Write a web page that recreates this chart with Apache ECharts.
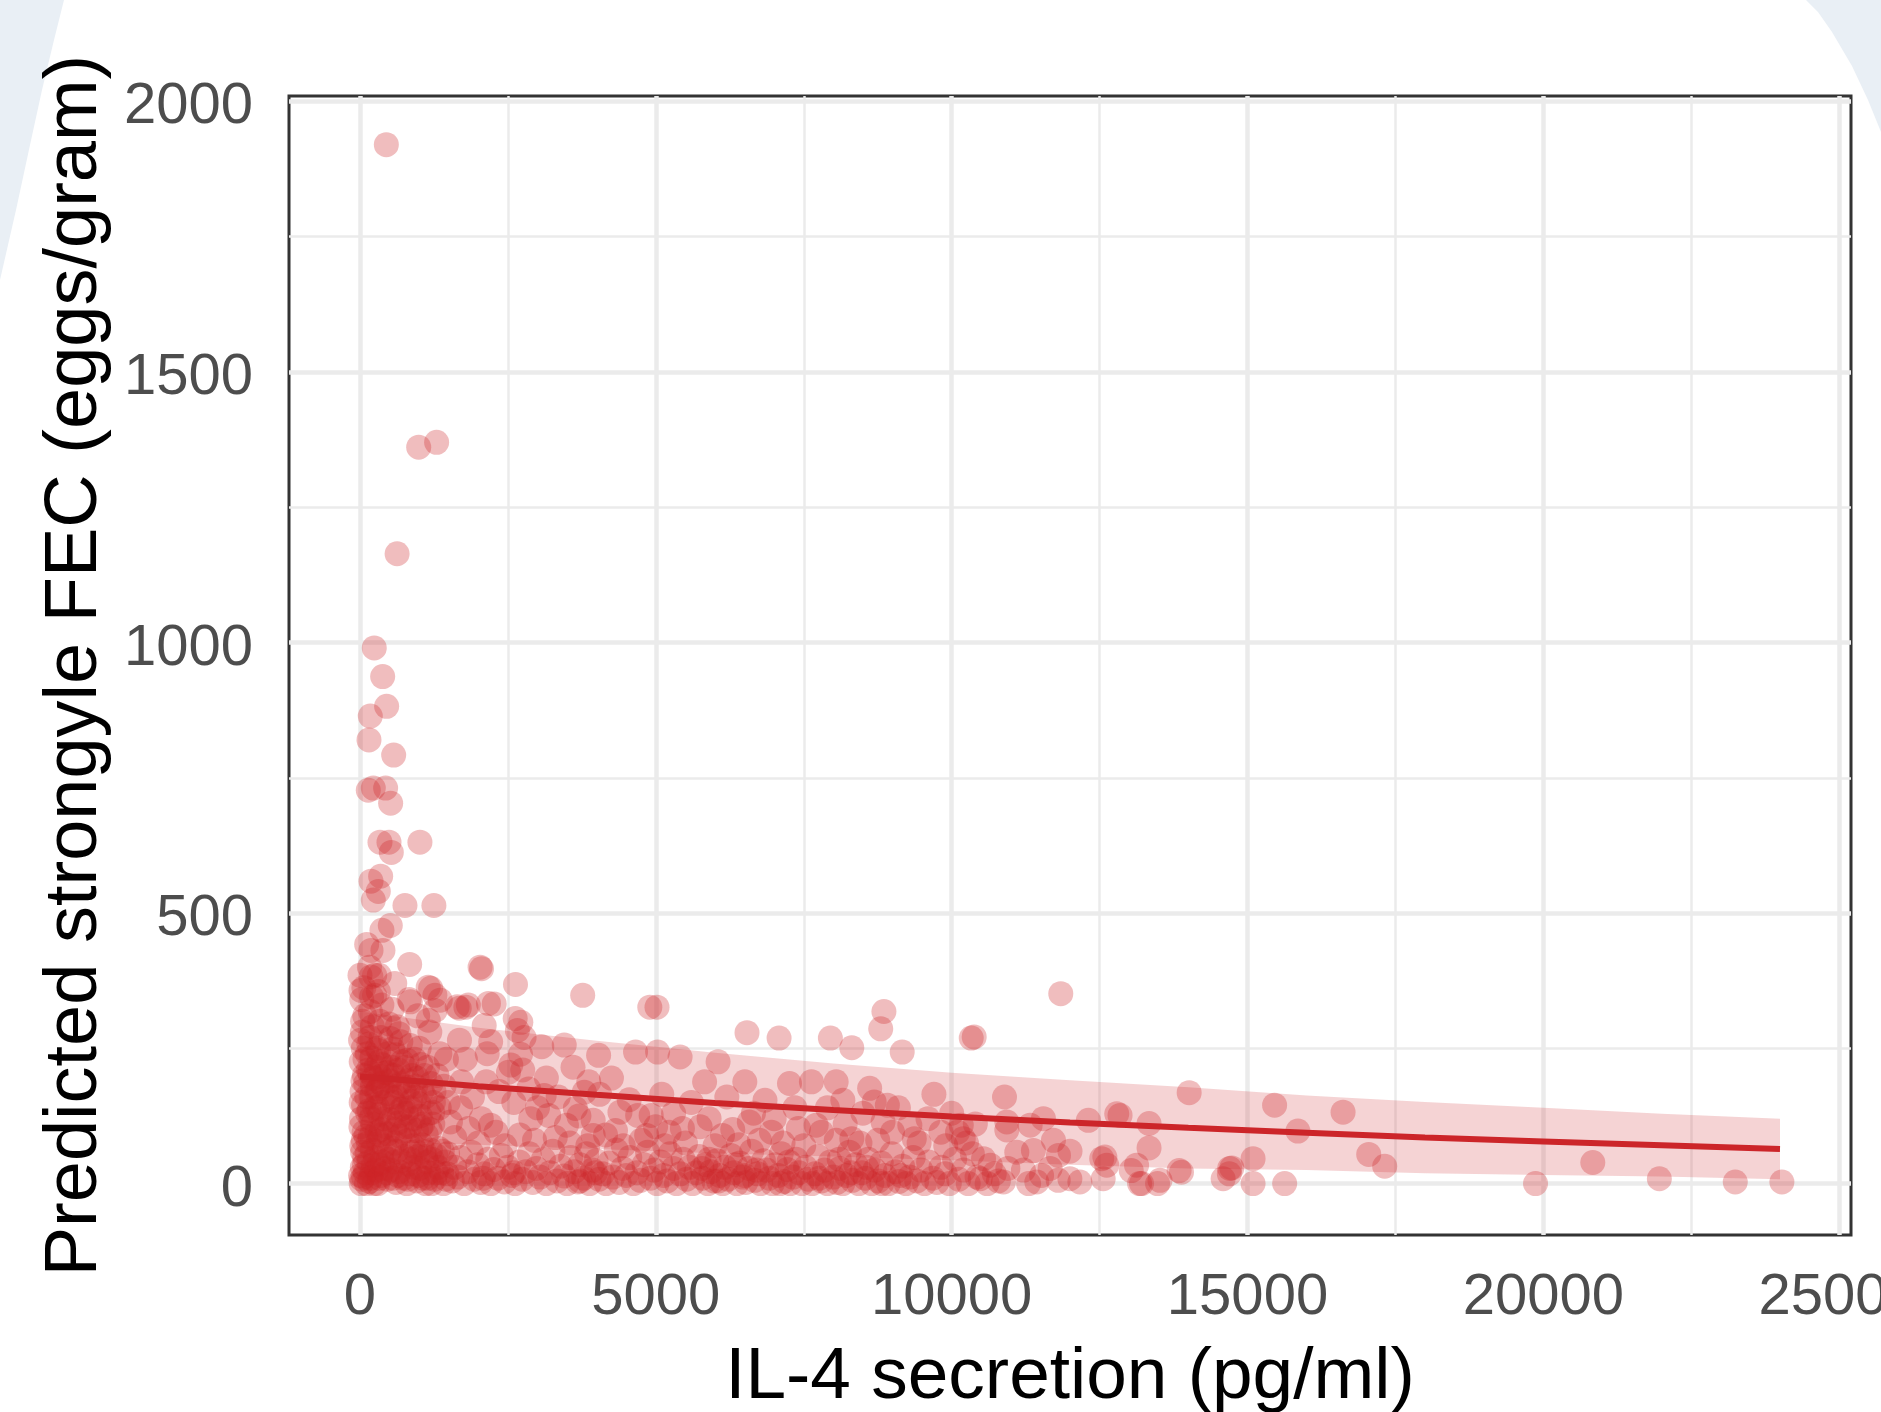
<!DOCTYPE html>
<html>
<head>
<meta charset="utf-8">
<script src="https://cdn.jsdelivr.net/npm/echarts@6/dist/echarts.min.js"></script>
<style>
  html, body { margin: 0; padding: 0; background: #ffffff; }
  #chart { width: 1881px; height: 1412px; }
</style>
</head>
<body>
<div id="chart"></div>
<script>
// axis ticks and gridlines
const xTicks = [0, 5000, 10000, 15000, 20000, 25000];
const xMinor = [2500, 7500, 12500, 17500, 22500];
const yTicks = [0, 500, 1000, 1500, 2000];
const yMinor = [250, 750, 1250, 1750];

// fitted curve and confidence band
const fitX = [0, 2000, 4000, 6000, 8000, 10000, 12000, 14000, 16000, 18000, 20000, 22000, 24000];
const fitY = [198, 180, 164, 149, 136, 124, 113, 103, 94, 85, 78, 71, 64];
const bandUpper = [318, 288, 264, 242, 222, 205, 191, 178, 163, 151, 140, 129, 120];
const bandLower = [78, 72, 64, 56, 50, 43, 35, 28, 25, 19, 16, 13, 8];

// observations: [IL-4 secretion, predicted FEC]
const outliers = [
  [445, 1920], [992, 1361], [1295, 1370], [627, 1164],
  [241, 990], [383, 937], [450, 882], [174, 864], [152, 820], [569, 792],
  [140, 727], [225, 731], [433, 731], [518, 703],
  [338, 631], [490, 631], [529, 612], [1013, 631],
  [186, 559], [349, 568], [309, 540], [225, 524], [760, 514], [1249, 514],
  [512, 477], [371, 468], [113, 442], [388, 431], [186, 431], [839, 405],
  [2054, 397], [2030, 400], [2628, 368], [3764, 348], [0, 385], [186, 382], [326, 385],
  [248, 385], [587, 370], [17, 357], [248, 348], [1153, 363], [1266, 348], [852, 336],
  [1642, 327], [1831, 330], [2171, 333], [1153, 302], [1681, 265], [2208, 262],
  [2660, 283], [2623, 305], [3072, 253], [3452, 256], [4033, 237], [4657, 243],
  [5030, 243], [5410, 234], [6052, 225], [6541, 279], [7083, 269], [7950, 269],
  [8312, 251], [8855, 318], [8801, 286], [9164, 243], [10331, 269], [4898, 326],
  [5020, 326], [1677, 324], [1790, 326], [2268, 332], [2099, 292], [2718, 298],
  [2773, 270], [2712, 239], [658, 277], [550, 249], [1194, 361], [1356, 339]
];

const leftCluster = [
  [20, 0], [60, 12], [40, 30], [80, 48], [30, 70], [70, 95], [25, 120], [60, 145], [35, 170], [75, 200],
  [20, 225], [55, 250], [40, 280], [80, 310], [30, 340], [65, 362],
  [160, 4], [200, 20], [150, 40], [210, 62], [170, 85], [220, 110], [155, 135], [190, 160], [215, 180],
  [165, 205], [200, 232], [150, 258], [210, 290], [175, 318], [195, 345], [160, 400],
  [300, 0], [350, 15], [320, 35], [370, 55], [310, 78], [360, 100], [330, 128], [380, 150], [305, 175],
  [345, 198], [375, 220], [315, 246], [355, 270], [335, 300], [370, 330], [310, 355],
  [460, 8], [520, 25], [480, 45], [540, 66], [470, 92], [510, 118], [545, 140], [455, 166], [500, 190],
  [530, 215], [475, 240], [515, 268], [490, 295], [540, 322],
  [610, 2], [660, 22], [690, 42], [620, 60], [670, 88], [640, 112], [700, 138], [615, 160], [680, 185],
  [650, 210], [605, 238], [690, 262], [630, 290],
  [790, 0], [850, 18], [820, 36], [870, 58], [800, 80], [840, 105], [785, 130], [860, 152], [815, 178],
  [880, 200], [795, 228], [850, 255], [830, 340],
  [960, 5], [1010, 28], [980, 50], [1040, 72], [955, 98], [1020, 125], [990, 148], [1050, 172], [965, 195],
  [1030, 220], [1000, 250], [975, 310],
  [1110, 0], [1160, 20], [1130, 40], [1190, 62], [1120, 90], [1170, 130], [1100, 160], [1200, 185],
  [1140, 215], [1180, 280],
  [1260, 8], [1320, 30], [1280, 52], [1340, 140], [1250, 170], [1300, 200], [1350, 240], [1270, 320],
  [1410, 0], [1470, 18], [1440, 40], [1490, 150], [1420, 180], [1460, 230],
  [90, 20], [120, 55], [100, 88], [130, 130], [95, 185], [125, 240], [240, 0], [260, 48], [250, 140],
  [270, 215], [420, 28], [400, 120], [430, 205], [580, 40], [575, 150], [740, 10], [720, 95], [745, 170],
  [910, 30], [900, 120], [920, 230], [1070, 10], [1060, 110], [1220, 45], [1230, 110], [1380, 20], [1390, 60],
  [10, 15], [45, 58], [15, 105], [50, 190], [10, 265], [45, 300], [110, 0], [140, 75], [115, 160], [140, 210],
  [280, 25], [290, 95], [285, 170], [290, 250], [410, 70], [395, 180], [560, 10], [590, 100], [570, 200],
  [750, 50], [730, 140], [760, 215], [890, 70], [930, 160], [1080, 60], [1090, 200], [1210, 0], [1240, 150],
  [30, 8], [75, 35], [55, 80], [20, 150], [85, 230], [180, 10], [230, 35], [185, 120], [230, 195], [170, 270],
  [330, 10], [380, 40], [340, 90], [300, 140], [360, 185], [325, 225], [450, 20], [495, 60], [440, 105],
  [525, 160], [460, 205], [640, 15], [600, 75], [665, 125], [635, 180], [710, 225], [810, 8], [855, 45],
  [775, 105], [845, 140], [805, 190], [985, 15], [945, 60], [1025, 105], [940, 180], [1150, 10], [1105, 50],
  [1185, 100], [1290, 20], [1330, 65], [1450, 8], [1480, 55]
];

const bottomBand = [
  [1560, 5], [1600, 30], [1650, 12], [1700, 48], [1760, 0], [1820, 22], [1880, 58], [1930, 8], [1990, 35],
  [2040, 2], [2100, 18], [2160, 45], [2210, 0], [2260, 26], [2330, 10], [2390, 52], [2440, 3], [2500, 30],
  [2570, 15], [2620, 0], [2690, 40], [2740, 8], [2800, 22], [2860, 55], [2920, 2], [2980, 28],
  [3040, 12], [3100, 45], [3150, 0], [3210, 20], [3260, 60], [3330, 5], [3390, 32], [3450, 14], [3500, 0],
  [3560, 48], [3620, 22], [3680, 3], [3720, 35], [3780, 10], [3830, 55], [3880, 0], [3930, 25], [3990, 42],
  [4040, 8], [4100, 18], [4160, 0], [4210, 38], [4270, 12], [4330, 62], [4380, 2], [4440, 28], [4500, 15],
  [4560, 48], [4620, 0], [4680, 20], [4740, 6], [4800, 35], [4860, 58], [4910, 10], [4970, 25],
  [5020, 0], [5080, 40], [5130, 15], [5190, 5], [5240, 55], [5300, 28], [5350, 0], [5410, 18], [5460, 45],
  [5520, 8], [5570, 30], [5620, 0], [5680, 20], [5730, 50], [5790, 10], [5840, 35], [5880, 0], [5930, 22],
  [5980, 5], [6030, 42], [6080, 15], [6130, 0], [6170, 30], [6220, 8], [6270, 52], [6320, 20], [6370, 0],
  [6420, 38], [6470, 12], [6520, 2], [6570, 28], [6620, 60], [6670, 6], [6720, 18], [6770, 0], [6820, 42],
  [6870, 25], [6920, 10], [6970, 0], [7020, 35], [7070, 15], [7120, 55], [7170, 4], [7220, 26], [7270, 0],
  [7320, 12], [7370, 45], [7420, 20], [7470, 0],
  [7530, 30], [7580, 8], [7640, 0], [7690, 18], [7740, 50], [7800, 5], [7850, 25], [7900, 0], [7950, 40],
  [8000, 12], [8060, 2], [8110, 28], [8160, 0], [8220, 15], [8270, 58], [8320, 6], [8380, 35], [8430, 0],
  [8480, 20], [8540, 10], [8590, 45], [8650, 0], [8700, 25], [8760, 5], [8810, 38], [8870, 15], [8930, 0],
  [8990, 55], [9050, 22], [9110, 4], [9170, 32], [9230, 0], [9290, 12], [9350, 48], [9410, 5], [9480, 25],
  [9540, 0], [9610, 40], [9680, 10], [9750, 2], [9820, 30], [9890, 18], [9960, 0],
  [10050, 45], [10120, 8], [10200, 25], [10280, 0], [10350, 55], [10430, 12], [10483, 9], [10539, 46],
  [10600, 0], [10652, 34], [10720, 18], [10790, 5], [10876, 3], [10950, 28], [11101, 58], [11213, 25],
  [11300, 0], [11382, 61], [11439, 3], [11520, 15], [11664, 28], [11801, 6], [11805, 52], [11998, 9],
  [12167, 3],
  [2080, 10], [2600, 20], [3720, 5], [3980, 20], [5780, 28], [6060, 5], [6340, 35], [6700, 25], [7100, 0],
  [7250, 40], [7760, 10], [8100, 45], [8300, 20], [8560, 30], [8820, 0], [9140, 15], [6500, 15], [5900, 45]
];

const midBand = [
  [1718, 188], [2134, 188], [2510, 206], [2549, 219], [3113, 163], [3640, 139], [3866, 188], [3791, 169],
  [3941, 117], [4394, 132], [4693, 126], [4921, 126], [4996, 105], [5449, 102], [5824, 188], [6504, 188],
  [6845, 154], [7259, 185], [7630, 188], [8048, 188], [8161, 154], [8614, 176], [8690, 151], [8913, 145],
  [9293, 108], [10162, 108], [10196, 83], [1229, 132], [1529, 114], [1831, 102], [2208, 108], [2886, 120],
  [3189, 126], [3489, 108], [3941, 89], [4318, 98], [4845, 89], [5223, 95], [5749, 105], [6127, 89],
  [6580, 114], [6955, 95], [7409, 102], [7710, 108], [8312, 83], [8840, 114], [9368, 83], [9819, 95],
  [1600, 85], [1700, 140], [1780, 230], [1900, 160], [2000, 75], [2050, 120], [2150, 240], [2300, 95],
  [2350, 170], [2450, 70], [2600, 150], [2700, 90], [2750, 210], [2850, 175], [2950, 80], [3000, 140],
  [3150, 195], [3300, 85], [3350, 160], [3550, 75], [3600, 215], [3700, 125], [3850, 70], [4050, 165],
  [4150, 90], [4250, 195], [4450, 70], [4550, 155], [4750, 80], [5100, 165], [5150, 70], [5300, 130],
  [5500, 75], [5600, 150], [5900, 120], [6000, 70], [6200, 160], [6300, 100], [6400, 72], [6650, 130],
  [6750, 80], [7000, 120], [7150, 75], [7350, 140], [7500, 70], [7800, 95], [7900, 140], [8050, 80],
  [8200, 110], [8450, 75], [8500, 130], [8750, 80], [9000, 95], [9100, 140], [9450, 75], [9600, 120],
  [9700, 165], [9900, 70], [10000, 130], [10100, 95], [10250, 75], [10400, 110]
];

const rightTail = [
  [10381, 271], [10893, 160], [11844, 351], [14014, 168], [15458, 145], [15852, 97], [10932, 114],
  [10932, 99], [11326, 108], [11551, 120], [11720, 80], [12311, 117], [12790, 129], [12846, 126],
  [13336, 111], [13336, 66], [12536, 46], [12621, 34], [13125, 34], [13884, 21], [14700, 28], [15094, 46],
  [15628, 0], [15094, 0], [13521, 6], [13209, 0], [12561, 9], [12000, 60], [14588, 9], [16615, 132],
  [17049, 54], [17319, 32], [19868, 0], [20836, 39], [21961, 9], [23244, 3], [24032, 3],
  [12589, 49], [13035, 24], [13844, 24], [14735, 29], [14693, 18], [13480, 0], [13176, 0]
];

const samples = [].concat(outliers, leftCluster, bottomBand, midBand, rightTail);

const RED = 'rgb(204,37,41)';
const FONT = 'Liberation Sans, Arial, Helvetica, sans-serif';

const chart = echarts.init(document.getElementById('chart'), null, { renderer: 'canvas' });

const gridLines = [];
xTicks.forEach(v => gridLines.push({ xAxis: v, lineStyle: { width: 4.5 } }));
xMinor.forEach(v => gridLines.push({ xAxis: v, lineStyle: { width: 2.5 } }));
yTicks.forEach(v => gridLines.push({ yAxis: v, lineStyle: { width: 4.5 } }));
yMinor.forEach(v => gridLines.push({ yAxis: v, lineStyle: { width: 2.5 } }));

const option = {
  animation: false,
  backgroundColor: '#ffffff',
  graphic: [
    {
      type: 'polygon', z: -10, silent: true,
      shape: { points: [[0, 0], [64, 0], [54, 40], [42, 90], [30, 145], [16, 210], [0, 280]] },
      style: { fill: '#e9eff5' }
    },
    {
      type: 'polygon', z: -10, silent: true,
      shape: { points: [[1806, 0], [1881, 0], [1881, 132], [1868, 100], [1852, 66], [1832, 32], [1818, 12]] },
      style: { fill: '#e9eff5' }
    }
  ],
  grid: {
    left: 289,
    right: 30,
    top: 96,
    bottom: 177,
    show: true,
    backgroundColor: '#ffffff',
    borderColor: '#333333',
    borderWidth: 3,
    containLabel: false,
    outerBoundsMode: 'none'
  },
  xAxis: {
    type: 'value',
    min: -1200,
    max: 25200,
    splitLine: { show: false },
    axisLine: { show: false },
    axisTick: {
      show: true,
      customValues: xTicks,
      length: 19,
      lineStyle: { color: '#333333', width: 3 }
    },
    axisLabel: {
      customValues: xTicks,
      formatter: v => String(v),
      fontSize: 58,
      fontFamily: FONT,
      color: '#4d4d4d',
      margin: 34
    },
    name: 'IL-4 secretion (pg/ml)',
    nameLocation: 'middle',
    nameGap: 106,
    nameTextStyle: { fontSize: 73, fontFamily: FONT, color: '#000000' }
  },
  yAxis: {
    type: 'value',
    min: -95,
    max: 2010,
    splitLine: { show: false },
    axisLine: { show: false },
    axisTick: {
      show: true,
      customValues: yTicks,
      length: 19,
      lineStyle: { color: '#333333', width: 3 }
    },
    axisLabel: {
      customValues: yTicks,
      formatter: v => '{t|' + v + '}',
      rich: {
        t: {
          fontSize: 58,
          fontFamily: FONT,
          color: '#4d4d4d',
          padding: [12, 0, 0, 0]
        }
      },
      margin: 36
    },
    name: 'Predicted strongyle FEC (eggs/gram)',
    nameLocation: 'middle',
    nameGap: 176,
    nameTextStyle: { fontSize: 74, fontFamily: FONT, color: '#000000' }
  },
  series: [
    {
      name: 'grid',
      type: 'scatter',
      data: [],
      z: 1,
      silent: true,
      markLine: {
        silent: true,
        z: 1,
        symbol: 'none',
        label: { show: false },
        lineStyle: { color: '#ebebeb', type: 'solid', width: 4 },
        data: gridLines
      }
    },
    {
      name: 'FEC',
      type: 'scatter',
      data: samples,
      symbol: 'circle',
      symbolSize: 25,
      z: 2,
      itemStyle: { color: RED, opacity: 0.3 }
    },
    {
      name: 'band',
      type: 'custom',
      z: 3,
      silent: true,
      data: fitX.map((x, i) => [x, fitY[i]]),
      renderItem: (params, api) => {
        if (params.dataIndex !== 0) return null;
        const pts = [];
        fitX.forEach((x, i) => pts.push(api.coord([x, bandUpper[i]])));
        for (let i = fitX.length - 1; i >= 0; i--) pts.push(api.coord([fitX[i], bandLower[i]]));
        return {
          type: 'polygon',
          shape: { points: pts },
          style: { fill: RED, opacity: 0.2 }
        };
      }
    },
    {
      name: 'fit',
      type: 'line',
      z: 4,
      data: fitX.map((x, i) => [x, fitY[i]]),
      showSymbol: false,
      smooth: false,
      lineStyle: { color: RED, width: 6 }
    }
  ]
};

chart.setOption(option);
</script>
</body>
</html>
